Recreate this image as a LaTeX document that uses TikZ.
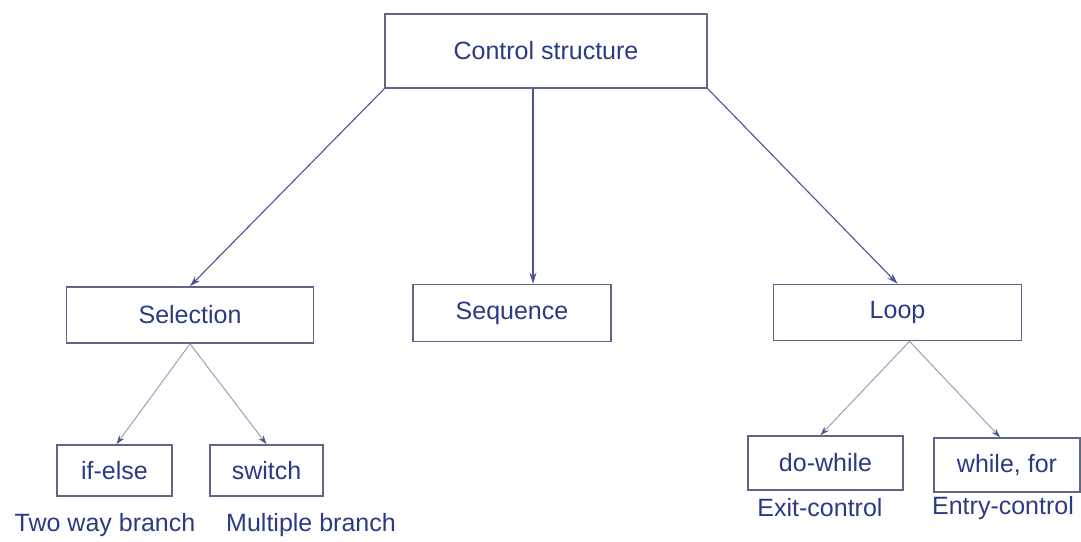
\documentclass[tikz,border=0pt]{standalone}
\usepackage{fontspec}
\setmainfont{Liberation Sans}
\usetikzlibrary{arrows.meta}
\definecolor{inkblue}{HTML}{2B3A85}
\definecolor{framegray}{HTML}{5F6688}
\definecolor{linkblue}{HTML}{4A5590}
\definecolor{fadeblue}{HTML}{9AA0BE}
\begin{document}
\begin{tikzpicture}[x=1pt,y=-1pt,
  box/.style={draw=framegray, line width=1.6pt, fill=white, inner sep=0pt,
    text=inkblue, font=\fontsize{25}{30}\selectfont},
  note/.style={text=inkblue, font=\fontsize{25}{30}\selectfont, inner sep=0pt},
  link/.style={draw=linkblue, line width=1.1pt,
    -{Stealth[length=11pt,width=7pt]}},
  faint/.style={draw=fadeblue, line width=1pt,
    -{Stealth[length=9pt,width=6pt,color=linkblue]}}]
\useasboundingbox (0,0) rectangle (1081,541);
\fill[white] (0,0) rectangle (1081,541);

% main boxes
\node[box, minimum width=322pt, minimum height=74pt] (ctrl) at (546,51) {Control structure};
\node[box, minimum width=247pt, minimum height=56pt] (sel) at (190,315) {Selection};
\node[box, minimum width=198pt, minimum height=57pt] (seq) at (512,313) {Sequence};
\node[box, minimum width=248pt, minimum height=56pt] (loop) at (897.5,312.5) {Loop};

% leaf boxes
\node[box, minimum width=115pt, minimum height=51pt] (ifelse) at (114.5,470.5) {if-else};
\node[box, minimum width=113pt, minimum height=51pt] (switch) at (266.5,470.5) {switch};
\node[box, minimum width=155pt, minimum height=54pt] (dowhile) at (825.5,463) {do-while};
\node[box, minimum width=146pt, minimum height=54pt] (whilefor) at (1007,465) {while, for};

% captions under the leaves
\node[note] (twoway) at (105,525) {Two way branch};
\node[note] (multi) at (311,525) {Multiple branch};
\node[note] (exitc) at (820,508) {Exit-control};
\node[note] (entryc) at (1003,508) {Entry-control};

% connectors from the root
\draw[link] (ctrl.south west) -- (sel.north);
\draw[link] ([xshift=-13pt]ctrl.south) -- ([xshift=21pt]seq.north);
\draw[link] (ctrl.south east) -- (loop.north);

% connectors to the leaves
\draw[faint] (sel.south) -- ([xshift=2pt]ifelse.north);
\draw[faint] (sel.south) -- (switch.north);
\draw[faint] ([xshift=12pt]loop.south) -- ([xshift=-5pt]dowhile.north);
\draw[faint] ([xshift=12pt]loop.south) -- ([xshift=-7pt]whilefor.north);
\end{tikzpicture}
\end{document}
